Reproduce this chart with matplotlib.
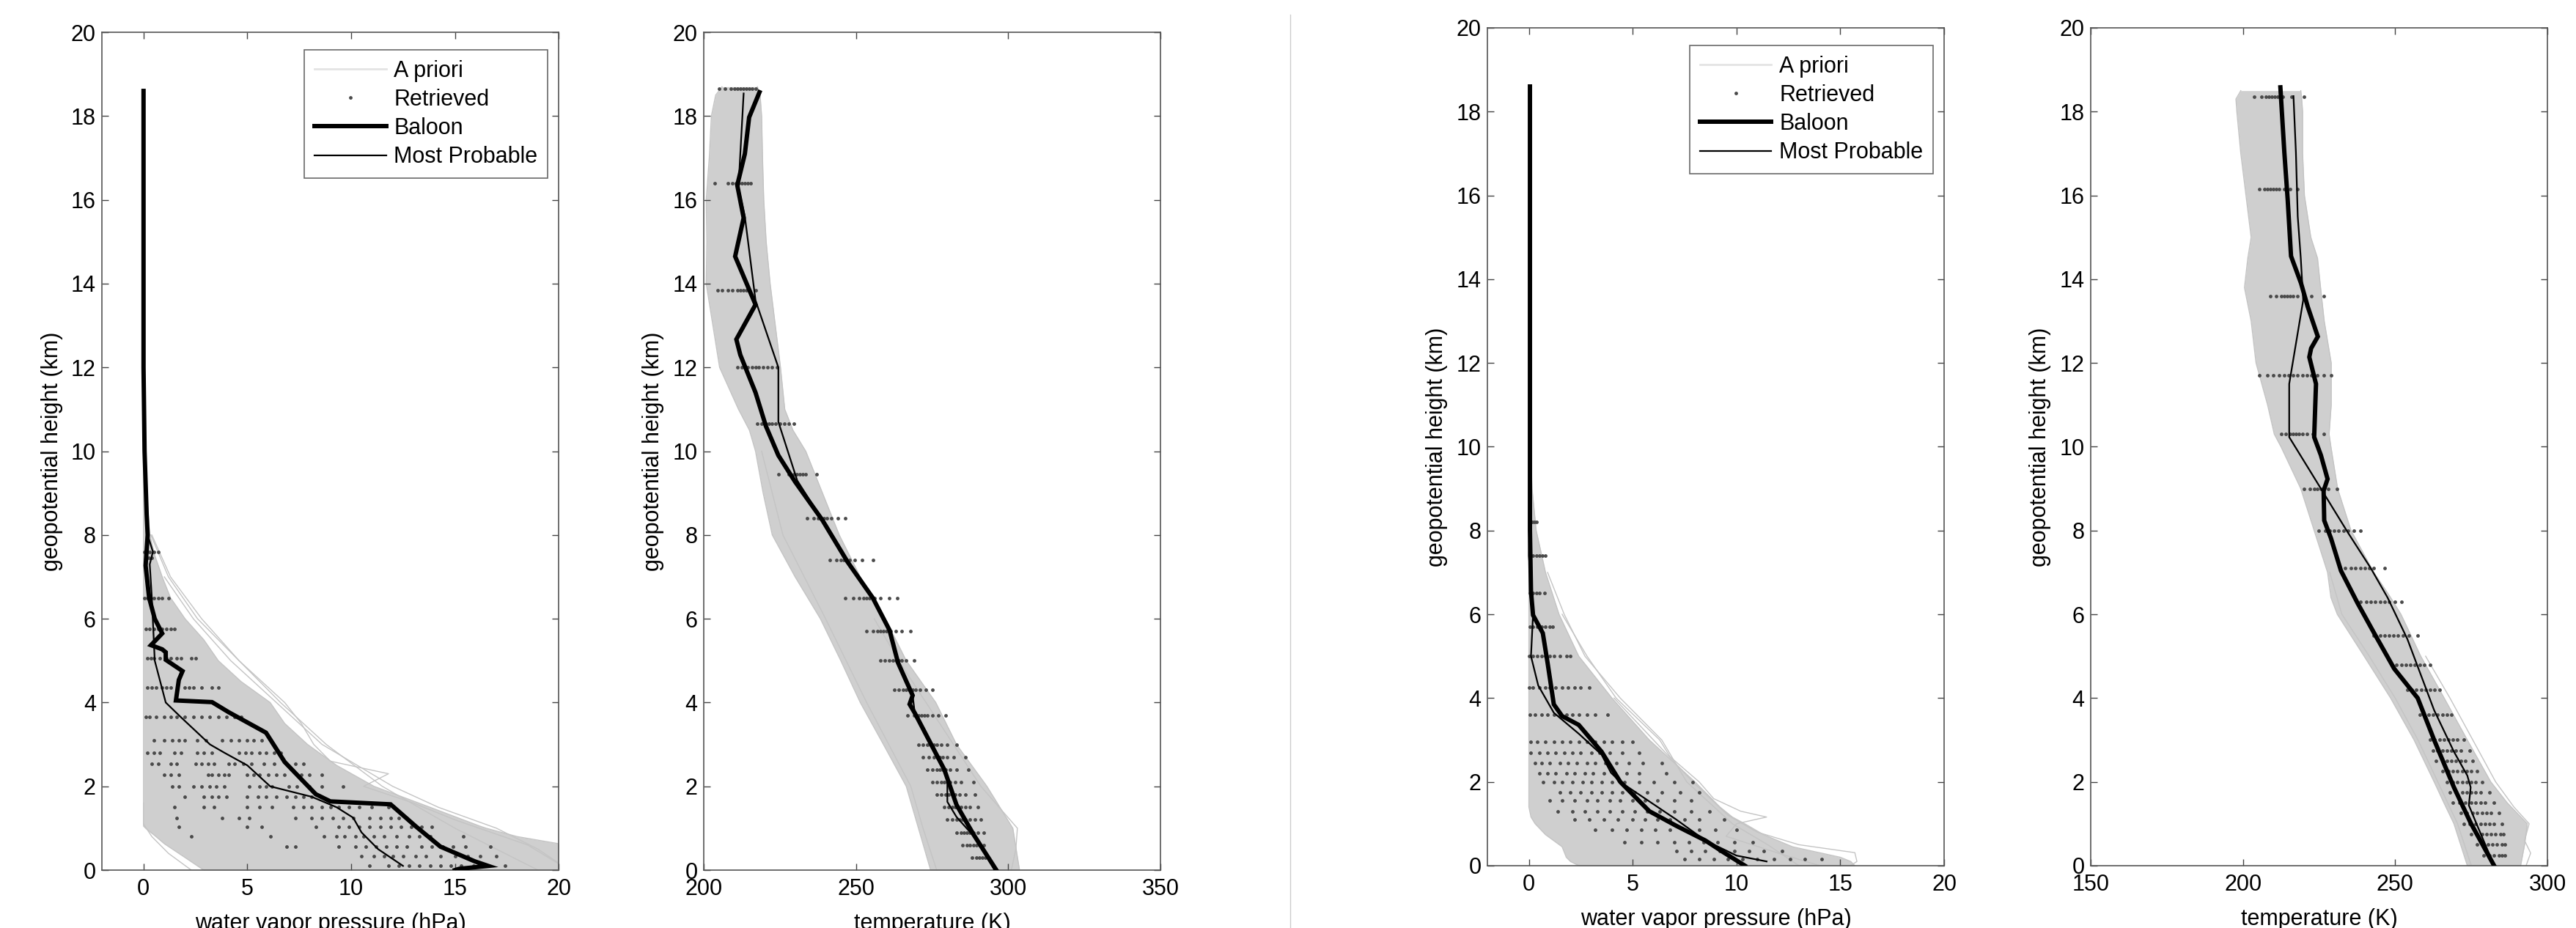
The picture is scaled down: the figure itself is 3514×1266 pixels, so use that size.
import numpy as np
import matplotlib
matplotlib.use('Agg')
from matplotlib import pyplot as plt
from matplotlib.lines import Line2D

plt.rcParams['font.family'] = ['Liberation Sans', 'DejaVu Sans']

# ---------------- panel 1 : water vapor, case 1 ----------------
ap1_h  = [0, 0.3, 0.63, 0.8, 1.0, 1.05, 1.5, 2.0, 2.5, 3.0, 3.5, 4.0, 4.5, 5.0, 5.5, 6.0, 6.5, 7.0, 7.5, 8.0, 9.0, 10.0, 14.0, 18.6]
ap1_lo = [2.9, 2.0, 1.0, 0.6, 0.1, 0, 0, 0, 0, 0, 0, 0, 0, 0, 0, 0, 0, 0, 0, 0, 0, 0, 0, 0]
ap1_hi = [21.0, 21.0, 20.0, 18.0, 16.5, 16.2, 13.8, 11.1, 9.3, 7.9, 6.8, 6.1, 4.7, 3.6, 2.9, 2.0, 1.3, 0.9, 0.55, 0.3, 0.15, 0.06, 0.03, 0.02]
ap1_out_h = [[0, 0.6, 1.2, 1.6, 2.0, 2.3, 2.6, 3.0, 3.5, 4.0, 5.0, 6.0, 7.0, 8.0],
             [0, 1.0, 2.0, 3.0, 4.0, 5.0, 6.0, 7.0, 8.0],
             [0, 0.4, 0.8, 1.1, 1.6],
             [0, 0.5, 1.0, 1.5, 2.0, 3.0, 4.0, 5.0, 6.0, 7.0]]
ap1_out_x = [[20.5, 18.5, 15.0, 13.0, 10.6, 11.8, 9.0, 8.2, 7.6, 6.8, 4.6, 2.6, 1.2, 0.35],
             [19.0, 15.0, 11.5, 8.8, 6.6, 4.6, 2.8, 1.3, 0.4],
             [2.3, 1.2, 0.4, 0.0, 0.0],
             [20.5, 19.0, 17.0, 14.2, 12.0, 8.6, 6.4, 4.2, 2.4, 1.0]]
bal1_h = [18.6, 12.0, 10.0, 8.5, 8.0, 7.27, 6.5, 6.0, 5.65, 5.37, 5.27, 5.2, 5.02, 4.75, 4.54, 4.05, 4.01, 3.77, 3.28, 2.58, 1.81, 1.64, 1.57, 1.05, 0.56, 0.21, 0.1, 0.03, 0.0]
bal1_x = [0.0, 0.0, 0.05, 0.15, 0.2, 0.1, 0.27, 0.54, 0.9, 0.36, 0.9, 1.07, 1.07, 1.88, 1.7, 1.56, 3.3, 4.1, 5.9, 6.8, 8.3, 9.0, 11.9, 13.1, 14.3, 15.95, 16.6, 15.2, 15.0]
mp1_h = [18.6, 10.0, 8.0, 7.6, 7.3, 6.5, 5.0, 4.0, 3.65, 3.0, 2.8, 2.5, 2.0, 1.75, 1.5, 1.25, 0.9, 0.5, 0.1]
mp1_x = [0.0, 0.05, 0.2, 0.45, 0.3, 0.4, 0.54, 1.07, 1.8, 3.2, 3.9, 5.0, 6.1, 8.1, 9.3, 10.1, 10.5, 11.3, 12.5]
ret1 = [
    (7.6, [0.05, 0.15, 0.3, 0.5, 0.7]),
    (7.45, [0.1, 0.25, 0.4]),
    (6.5, [0.05, 0.2, 0.35, 0.5, 0.7, 0.9, 1.2]),
    (5.75, [0.1, 0.3, 0.5, 0.7, 0.9, 1.1, 1.3, 1.5]),
    (5.05, [0.2, 0.35, 0.5, 0.8, 1.1, 1.3, 1.6, 1.8, 2.3, 2.5]),
    (4.35, [0.2, 0.4, 0.6, 0.9, 1.1, 1.3, 2.0, 2.2, 2.4, 2.8, 3.3, 3.6]),
    (3.65, [0.1, 0.3, 0.6, 1.0, 1.3, 1.6, 2.0, 2.4, 2.8, 3.2, 3.6, 4.0, 4.4, 4.7]),
    (3.1, [0.5, 1.0, 1.4, 1.7, 2.0, 2.6, 3.0, 3.8, 4.2, 4.6, 5.0, 5.3, 5.7, 6.1]),
    (2.8, [0.2, 0.5, 0.8, 1.5, 1.8, 2.6, 2.9, 3.3, 4.6, 4.9, 5.2, 5.6, 5.9, 6.3, 6.6]),
    (2.53, [0.4, 0.7, 1.3, 1.6, 2.5, 2.8, 3.1, 3.4, 4.1, 4.4, 4.8, 5.2, 5.8, 6.3, 6.9, 7.3, 7.7]),
    (2.27, [1.0, 1.3, 1.7, 3.1, 3.3, 3.6, 3.9, 4.1, 5.0, 5.3, 5.6, 6.0, 6.4, 6.8, 7.6, 8.0, 8.6]),
    (2.0, [1.4, 1.7, 2.4, 2.8, 3.2, 3.5, 3.9, 5.1, 5.6, 5.9, 6.2, 7.0, 7.4, 8.0, 8.6, 9.6]),
    (1.75, [2.0, 2.9, 3.3, 3.6, 4.0, 5.0, 5.5, 5.9, 6.4, 6.9, 7.3, 7.7, 8.1, 8.6]),
    (1.5, [1.5, 2.9, 3.4, 5.0, 5.6, 6.2, 7.2, 7.7, 8.1, 8.6, 9.0, 9.4, 9.9, 10.4, 11.0, 11.8]),
    (1.25, [1.6, 3.8, 4.6, 5.1, 7.3, 8.1, 8.6, 9.1, 9.6, 10.1, 10.9, 11.4, 11.9, 12.3, 12.7]),
    (1.03, [1.7, 5.0, 5.7, 8.3, 9.4, 9.9, 10.4, 10.9, 11.4, 11.9, 12.4, 12.9, 13.4, 13.9]),
    (0.8, [2.3, 6.1, 8.7, 9.3, 9.7, 10.2, 10.6, 11.1, 11.6, 12.2, 12.8, 13.3, 13.8, 15.4]),
    (0.56, [6.9, 7.3, 9.4, 10.2, 10.7, 11.2, 11.7, 12.2, 12.7, 13.4, 13.9, 14.4, 14.9, 15.5, 16.7]),
    (0.33, [10.5, 11.1, 11.6, 12.0, 12.5, 13.1, 13.6, 14.3, 15.0, 15.6, 16.2, 17.0]),
    (0.1, [10.9, 11.8, 12.3, 12.8, 13.3, 13.8, 14.3, 14.8, 15.3, 15.9, 16.5, 17.4]),
]

# ---------------- panel 2 : temperature, case 1 ----------------
ap2_h  = [0, 1.0, 2.0, 3.0, 4.0, 5.0, 6.0, 7.0, 8.0, 9.0, 10.0, 10.5, 11.0, 12.0, 13.0, 14.0, 15.0, 16.0, 17.0, 18.0, 18.5, 18.7]
ap2_lo = [274.5, 270.5, 266.5, 259.0, 251.4, 245.0, 238.3, 230.0, 222.5, 219.5, 217.0, 215.0, 211.4, 205.2, 203.0, 200.8, 201.0, 200.8, 201.8, 202.5, 203.9, 206.0]
ap2_hi = [303.7, 301.5, 293.0, 283.0, 276.2, 266.5, 259.6, 251.4, 244.5, 239.0, 233.5, 229.3, 226.6, 225.2, 223.5, 221.8, 220.5, 219.7, 219.3, 219.0, 218.5, 217.6]
ap2_out_h = [[0, 0.5, 1.0, 1.5, 2.0, 3.0, 4.0, 5.0, 6.0],
             [0, 1.0, 2.0, 4.0, 6.0, 8.0, 10.0]]
ap2_out_x = [[301.0, 302.5, 303.0, 297.0, 291.0, 282.0, 273.0, 264.0, 256.0],
             [276.5, 272.0, 268.0, 253.5, 240.0, 226.0, 219.0]]
bal2_h = [18.57, 17.97, 17.1, 16.35, 15.57, 14.65, 13.5, 12.67, 12.3, 11.4, 10.6, 9.9, 9.27, 8.35, 7.36, 6.5, 5.73, 4.95, 4.17, 3.96, 3.75, 2.4, 1.56, 0.85, 0.0]
bal2_x = [218.3, 214.9, 213.5, 211.0, 213.1, 210.3, 217.0, 210.7, 212.0, 217.0, 220.4, 224.5, 230.0, 239.0, 247.2, 255.5, 261.0, 263.8, 268.6, 267.6, 269.3, 279.0, 283.0, 288.6, 296.1]
mp2_h = [18.54, 16.3, 15.6, 14.0, 13.6, 12.0, 10.7, 9.3, 8.35, 7.36, 6.5, 5.73, 4.95, 4.17, 3.75, 2.26, 1.63, 1.27, 0.7, 0.0]
mp2_x = [213.1, 211.4, 213.5, 216.3, 217.0, 224.5, 224.5, 230.7, 239.0, 247.2, 255.5, 261.0, 263.8, 268.6, 269.3, 280.0, 280.0, 283.0, 290.0, 295.5]
ret2 = [
    (18.65, [205, 207, 209, 210, 211, 212, 213, 214, 215, 216, 217]),
    (16.4, [203.5, 208, 209.5, 210.5, 211.5, 212.5, 213.5, 214.5, 215.5]),
    (13.85, [204.5, 206, 208, 209.5, 211, 212, 213, 214, 215, 217]),
    (12.0, [211, 212.5, 213.5, 214.5, 216, 217, 218, 219.5, 221, 222.5, 224]),
    (10.65, [217.5, 219, 220.5, 221.5, 222.5, 223.5, 225, 226.5, 228, 229.5]),
    (9.45, [224.5, 228, 229.5, 230.5, 231.5, 232.5, 233.5, 237]),
    (8.4, [234, 236, 237.5, 238.5, 239.5, 240.5, 242, 244, 246.5]),
    (7.4, [241.5, 243.5, 245, 246, 247, 248, 249.5, 252, 255.5]),
    (6.5, [246.5, 249, 251, 252.5, 253.5, 254.5, 256, 258, 261, 263.5]),
    (5.7, [253.5, 255.5, 257, 258, 259, 260, 261.5, 263, 265, 268]),
    (5.0, [258, 259.5, 261, 262, 263, 264, 265, 266.5, 269]),
    (4.3, [262.5, 264, 265.5, 266.5, 267.5, 268.5, 269.5, 271, 273, 275]),
    (3.7, [267, 269, 270.5, 271.5, 272.5, 273.5, 275, 277, 279.5]),
    (3.0, [270.5, 272, 273.5, 274.5, 275.5, 276.5, 278, 280, 283]),
    (2.7, [272, 274, 275.5, 276.5, 277.5, 278.5, 280, 282, 286]),
    (2.4, [273.5, 275, 276.5, 277.5, 278.5, 279.5, 281, 283, 287]),
    (2.1, [275, 276.5, 278, 279, 280, 281, 282.5, 284.5, 288.5]),
    (1.8, [276.5, 278, 279.5, 280.5, 281.5, 282.5, 284, 286, 289]),
    (1.5, [279, 280.5, 281.5, 282.5, 283.5, 284.5, 286, 287.5, 290]),
    (1.2, [280, 281.5, 283, 284, 285, 286, 287.5, 289, 291]),
    (0.9, [283, 284.5, 285.5, 286.5, 287.5, 288.5, 290, 292]),
    (0.6, [285, 286.5, 287.5, 288.5, 289.5, 290.5, 292]),
    (0.3, [288, 289.5, 290.5, 291.5, 292.5, 293.5]),
]

# ---------------- panel 3 : water vapor, case 2 ----------------
ap3_h  = [0, 0.1, 0.2, 0.45, 0.74, 1.0, 1.16, 1.4, 2.0, 3.0, 4.0, 5.0, 6.0, 7.0, 8.0, 9.0, 10.0, 14.0, 18.6]
ap3_lo = [2.4, 2.0, 1.8, 1.6, 0.8, 0.3, 0.1, 0, 0, 0, 0, 0, 0, 0, 0, 0, 0, 0, 0]
ap3_hi = [15.7, 15.5, 15.0, 12.7, 11.3, 10.4, 9.8, 9.2, 8.0, 5.8, 4.0, 2.4, 1.45, 0.8, 0.35, 0.15, 0.08, 0.03, 0.02]
ap3_out_h = [[0, 0.3, 0.7, 1.0, 1.16, 1.3, 1.6, 2.0, 2.6, 3.0, 4.0, 5.0, 6.0],
             [0, 0.1, 0.31, 0.5, 0.8, 1.2, 2.0, 3.0, 4.0],
             [0, 0.5, 1.0, 2.0, 3.0, 4.0, 5.0, 6.0, 7.0]]
ap3_out_x = [[14.0, 12.0, 9.5, 10.0, 11.45, 10.2, 8.9, 8.2, 6.8, 6.3, 4.2, 2.8, 1.6],
             [15.5, 15.8, 15.7, 13.0, 11.0, 9.6, 7.9, 6.0, 4.1],
             [13.0, 11.5, 9.8, 7.6, 6.4, 4.4, 2.7, 1.7, 0.9]]
bal3_h = [18.6, 9.0, 8.0, 6.55, 5.98, 5.55, 4.84, 3.85, 3.57, 3.36, 2.72, 2.0, 1.3, 0.95, 0.6, 0.31, 0.0]
bal3_x = [0.05, 0.05, 0.05, 0.1, 0.2, 0.67, 0.9, 1.2, 1.6, 2.4, 3.5, 4.4, 5.8, 7.1, 8.5, 9.4, 10.4]
mp3_h = [18.6, 9.0, 7.4, 6.0, 5.0, 4.3, 3.65, 3.15, 2.65, 2.22, 2.0, 1.1, 0.6, 0.24, 0.1]
mp3_x = [0.05, 0.05, 0.0, 0.2, 0.1, 0.45, 1.2, 2.4, 3.5, 3.95, 4.4, 7.1, 8.5, 10.0, 11.45]
ret3 = [
    (8.2, [0.05, 0.15, 0.25, 0.35]),
    (7.4, [0.05, 0.2, 0.35, 0.5, 0.65, 0.8]),
    (6.5, [0.05, 0.2, 0.35, 0.5, 0.75]),
    (5.7, [0.05, 0.2, 0.4, 0.6, 0.8, 1.0, 1.15]),
    (5.0, [0.0, 0.2, 0.4, 0.6, 0.8, 1.0, 1.2, 1.5, 1.8, 2.0]),
    (4.25, [0.0, 0.2, 0.5, 0.8, 1.0, 1.3, 1.6, 1.9, 2.2, 2.5, 2.9]),
    (3.6, [0.05, 0.3, 0.6, 0.9, 1.2, 1.5, 1.8, 2.1, 2.4, 2.8, 3.2, 3.8]),
    (2.95, [0.1, 0.4, 0.8, 1.2, 1.6, 2.0, 2.4, 2.8, 3.2, 3.6, 4.0, 4.5, 5.0]),
    (2.7, [0.1, 0.5, 0.9, 1.3, 1.7, 2.1, 2.5, 3.0, 3.4, 3.9, 4.5, 5.3]),
    (2.45, [0.3, 0.6, 1.0, 1.5, 1.9, 2.3, 2.8, 3.2, 3.7, 4.2, 4.8, 5.5, 6.4]),
    (2.2, [0.5, 0.9, 1.3, 1.8, 2.2, 2.7, 3.1, 3.6, 4.1, 4.7, 5.3, 6.6]),
    (2.0, [0.7, 1.2, 1.6, 2.1, 2.6, 3.0, 3.5, 4.0, 4.6, 5.3, 6.0, 7.0, 7.9]),
    (1.75, [1.5, 2.0, 2.5, 3.0, 3.5, 4.0, 4.5, 5.1, 5.7, 6.4, 7.3, 8.2]),
    (1.55, [1.0, 1.6, 2.2, 2.8, 3.3, 3.9, 4.4, 5.0, 5.6, 6.2, 7.0, 7.8]),
    (1.3, [1.4, 2.1, 2.7, 3.3, 3.9, 4.5, 5.1, 5.7, 6.3, 7.0, 7.8, 8.7]),
    (1.1, [2.2, 2.9, 3.6, 4.3, 5.0, 5.6, 6.2, 6.8, 7.5, 8.2, 9.4]),
    (0.85, [3.2, 4.0, 4.7, 5.4, 6.1, 6.8, 7.5, 8.2, 9.0, 10.0]),
    (0.55, [4.6, 5.4, 6.2, 7.0, 7.7, 8.4, 9.1, 9.9, 10.8]),
    (0.35, [7.1, 7.8, 8.5, 9.2, 9.9, 10.6, 11.3, 12.2]),
    (0.15, [7.5, 8.2, 8.9, 9.6, 10.3, 11.0, 11.8, 12.6, 13.3, 14.1]),
]

# ---------------- panel 4 : temperature, case 2 ----------------
ap4_h  = [0, 0.5, 1.0, 1.5, 2.0, 3.0, 4.0, 5.0, 6.0, 6.4, 7.0, 8.0, 9.0, 10.0, 10.3, 11.0, 12.0, 13.0, 13.8, 14.5, 15.0, 16.0, 17.0, 18.0, 18.3, 18.5]
ap4_lo = [273.7, 271.5, 269.3, 266.0, 262.8, 256.2, 248.5, 239.8, 231.0, 228.9, 227.8, 223.4, 219.0, 212.5, 210.3, 208.1, 204.3, 202.7, 200.5, 201.6, 202.7, 201.0, 199.3, 198.0, 197.7, 199.3]
ap4_hi = [291.2, 292.5, 293.4, 286.8, 281.4, 273.7, 266.1, 258.4, 251.9, 248.5, 243.0, 235.5, 231.1, 228.9, 228.3, 229.0, 229.0, 226.7, 225.5, 224.5, 222.3, 220.2, 219.6, 219.6, 219.3, 219.0]
ap4_out_h = [[0, 0.3, 0.6, 1.0, 1.4, 2.0, 3.0, 4.0, 5.0],
             [0, 1.0, 2.0, 3.0, 4.0, 5.0, 6.0, 7.0]]
ap4_out_x = [[293.0, 294.5, 292.5, 294.0, 289.0, 283.0, 275.5, 268.0, 260.0],
             [275.0, 270.5, 264.0, 257.5, 250.0, 241.5, 232.5, 228.5]]
bal4_h = [18.58, 17.03, 15.9, 14.55, 13.9, 13.34, 12.63, 12.35, 12.14, 11.5, 10.23, 9.8, 9.23, 8.95, 8.24, 7.82, 7.04, 6.26, 5.55, 4.7, 4.0, 3.0, 1.87, 1.02, 0.0]
bal4_x = [212.3, 213.6, 214.7, 215.8, 219.1, 221.3, 224.6, 222.4, 221.8, 224.0, 223.4, 225.6, 227.8, 226.5, 226.7, 228.9, 232.2, 237.7, 243.1, 249.7, 257.4, 262.8, 269.3, 274.8, 282.5]
mp4_h = [18.37, 17.03, 15.5, 14.5, 13.5, 11.5, 10.23, 9.38, 8.8, 7.96, 7.1, 6.4, 5.41, 4.56, 3.71, 2.72, 2.15, 1.87, 1.44, 0.95, 0.0]
mp4_x = [216.6, 217.4, 218.0, 219.0, 219.8, 215.2, 215.2, 222.4, 227.3, 234.4, 242.0, 247.5, 254.0, 258.4, 262.8, 269.3, 273.7, 274.8, 274.2, 277.0, 282.5]
ret4 = [
    (18.35, [203.7, 206, 207.5, 208.5, 209.5, 210.5, 211.5, 213, 216, 220]),
    (16.15, [205.5, 207, 208, 209, 210, 211, 212, 213.5, 215.5, 218]),
    (13.6, [209, 211, 212.5, 213.5, 214.5, 215.5, 216.5, 218, 220, 222.5, 226.5]),
    (11.7, [205.5, 208, 210, 212, 213.5, 215, 216.5, 218, 219.5, 221, 222.5, 224.5, 226.5, 229]),
    (10.3, [212.5, 214, 215.5, 216.5, 217.5, 218.5, 219.5, 221, 223, 226.5]),
    (9.0, [220, 222, 223.5, 224.5, 225.5, 226.5, 228, 231]),
    (8.0, [225, 227, 228.5, 230, 231.5, 233, 234.5, 236.5, 238.5]),
    (7.1, [233.5, 235.5, 237, 238.5, 240, 241.5, 243, 246.5]),
    (6.3, [238.5, 240.5, 242, 243.5, 245, 246.5, 248, 250, 252]),
    (5.5, [243, 245, 246.5, 248, 249.5, 251, 252.5, 254.5, 257.5]),
    (4.8, [250.5, 252, 253.5, 255, 256.5, 258, 259.5, 261.5]),
    (4.2, [254, 255.5, 257, 258.5, 260, 261.5, 263, 264.5]),
    (3.6, [258, 259.5, 261, 262.5, 264, 265.5, 267, 268.5]),
    (3.0, [261.5, 263, 264.5, 266, 267.5, 269, 270.5, 272.5]),
    (2.75, [262.5, 264, 265.5, 267, 268.5, 270, 271.5, 274.5]),
    (2.5, [263.5, 265.5, 267, 268.5, 270, 271.5, 273, 275.5]),
    (2.25, [265.5, 267.5, 269, 270.5, 272, 273.5, 275, 277]),
    (2.0, [267, 269, 270.5, 272, 273.5, 275, 276.5, 278.5]),
    (1.75, [268, 270, 272, 273.5, 275, 276.5, 278, 281]),
    (1.5, [269, 271, 273, 275, 276.5, 278, 279.5, 282.5]),
    (1.25, [271.5, 273.5, 275.5, 277, 278.5, 280, 281.5, 284]),
    (1.0, [272.5, 274.5, 276.5, 278, 279.5, 281, 282.5, 285]),
    (0.75, [275, 277, 278.5, 280, 281.5, 283, 284.5, 285.5]),
    (0.5, [277, 279, 280.5, 282, 283.5, 285, 286]),
    (0.25, [279, 281, 282.5, 284, 285, 286]),
]

wv_ticks = [0, 5, 10, 15, 20]
t1_ticks = [200, 250, 300, 350]
t2_ticks = [150, 200, 250, 300]
h_ticks = list(range(0, 21, 2))

FS = 22
BAND = '#cfcfcf'
APLINE = '#c4c4c4'
DOT = '#4a4a4a'


def drawPanel(ax, ap_h, ap_lo, ap_hi, out_h, out_x, bal_h, bal_x, mp_h, mp_x, ret, xlim, xticks, xlabel, legend=False):
    ax.fill_betweenx(ap_h, ap_lo, ap_hi, color=BAND, lw=0, zorder=1)
    ax.plot(ap_lo, ap_h, color=APLINE, lw=1.0, zorder=1.5)
    ax.plot(ap_hi, ap_h, color=APLINE, lw=1.0, zorder=1.5)
    for oh, ox in zip(out_h, out_x):
        ax.plot(ox, oh, color=APLINE, lw=1.0, zorder=1.5)
    rx = []
    ry = []
    for lev, xs in ret:
        rx.extend(xs)
        ry.extend([lev]*len(xs))
    ax.plot(rx, ry, ls='none', marker='o', ms=3.5, mew=0, color=DOT, zorder=2)
    ax.plot(bal_x, bal_h, color='black', lw=4.3, zorder=3, solid_joinstyle='miter')
    ax.plot(mp_x, mp_h, color='black', lw=1.6, zorder=4)

    ax.set_xlim(*xlim)
    ax.set_ylim(0, 20)
    ax.set_xticks(xticks)
    ax.set_yticks(h_ticks)
    ax.tick_params(direction='in', top=True, right=True, length=6.5, width=1.0,
                   labelsize=FS, color='#444444')
    ax.tick_params(axis='x', pad=8)
    ax.tick_params(axis='y', pad=6)
    for s in ax.spines.values():
        s.set_color('#555555')
        s.set_linewidth(1.2)
    ax.set_xlabel(xlabel, fontsize=FS, labelpad=12)
    ax.set_ylabel('geopotential height (km)', fontsize=FS, labelpad=8)

    if legend:
        hs = [Line2D([], [], color='#e4e4e4', lw=2),
              Line2D([], [], ls='none', marker='o', ms=3.5, mew=0, color=DOT),
              Line2D([], [], color='black', lw=4.3),
              Line2D([], [], color='black', lw=1.6)]
        lg = ax.legend(hs, ['A priori', 'Retrieved', 'Baloon', 'Most Probable'],
                       loc='upper right', bbox_to_anchor=(0.976, 0.979),
                       fontsize=FS, frameon=True, fancybox=False,
                       borderaxespad=0.0, borderpad=0.45, labelspacing=0.3,
                       handlelength=3.2, handletextpad=0.35)
        lg.get_frame().set_edgecolor('#444444')
        lg.get_frame().set_linewidth(1.2)


fig = plt.figure(figsize=(35.14, 12.66), dpi=100)
W = 0.1773
H = 0.9028
ax1 = fig.add_axes([0.0396, 0.0624, W, H])
ax2 = fig.add_axes([0.2732, 0.0624, W, H])
ax3 = fig.add_axes([0.5774, 0.0672, W, H])
ax4 = fig.add_axes([0.8116, 0.0672, W, H])

drawPanel(ax1, ap1_h, ap1_lo, ap1_hi, ap1_out_h, ap1_out_x, bal1_h, bal1_x, mp1_h, mp1_x, ret1,
          (-2, 20), wv_ticks, 'water vapor pressure (hPa)', legend=True)
drawPanel(ax2, ap2_h, ap2_lo, ap2_hi, ap2_out_h, ap2_out_x, bal2_h, bal2_x, mp2_h, mp2_x, ret2,
          (200, 350), t1_ticks, 'temperature (K)')
drawPanel(ax3, ap3_h, ap3_lo, ap3_hi, ap3_out_h, ap3_out_x, bal3_h, bal3_x, mp3_h, mp3_x, ret3,
          (-2, 20), wv_ticks, 'water vapor pressure (hPa)', legend=True)
drawPanel(ax4, ap4_h, ap4_lo, ap4_hi, ap4_out_h, ap4_out_x, bal4_h, bal4_x, mp4_h, mp4_x, ret4,
          (150, 300), t2_ticks, 'temperature (K)')

# thin separator between the two cases
fig.add_artist(Line2D([0.5009, 0.5009], [0.0, 0.984], transform=fig.transFigure,
                      color='#cccccc', lw=1.0))

fig.savefig('out.png', dpi=100)
plt.close()
